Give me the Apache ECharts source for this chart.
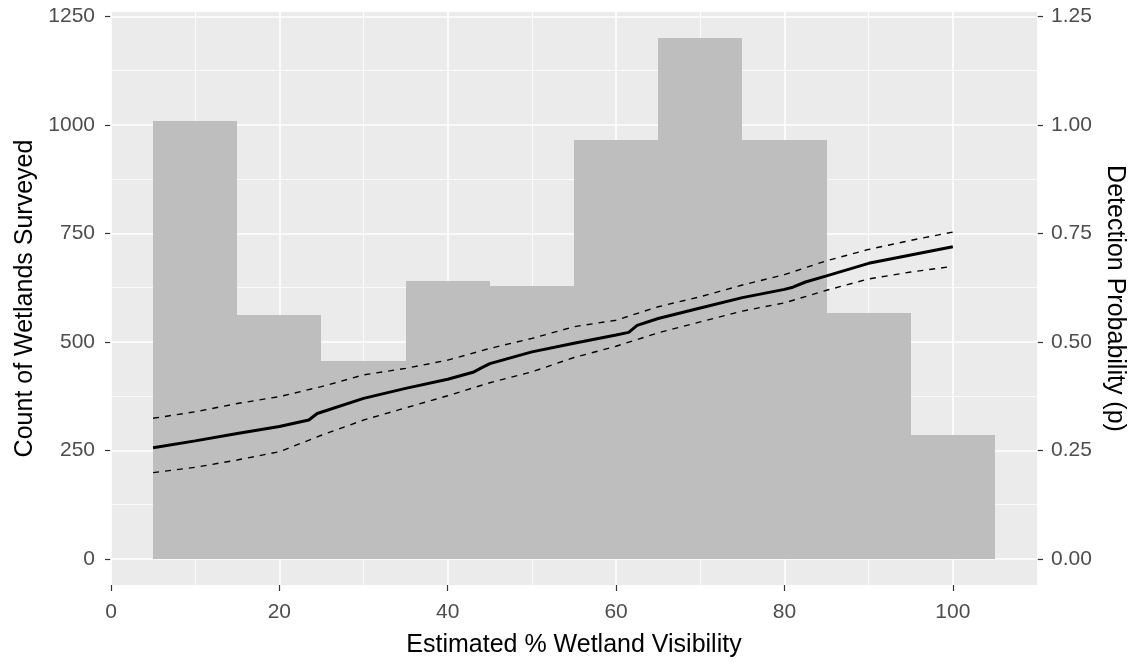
<!DOCTYPE html>
<html>
<head>
<meta charset="utf-8">
<script src="https://cdn.jsdelivr.net/npm/echarts@6/dist/echarts.min.js"></script>
<style>
  html, body { margin: 0; padding: 0; background: #ffffff; }
  #chart { width: 1136px; height: 662px; }
</style>
</head>
<body>
<div id="chart"></div>
<script>
// Histogram of surveyed wetlands by estimated visibility (bins of width 10)
const binCenters = [10, 20, 30, 40, 50, 60, 70, 80, 90, 100];
const binCounts = [1010, 563, 456, 641, 628, 965, 1200, 965, 567, 285];
const binWidth = 10;

// Fitted detection probability
const fitX = [5, 10, 15, 20, 23.5, 24.5, 30, 35, 40, 43, 44, 45, 50, 55, 60, 61.5, 62.5, 65, 70, 75, 80, 81, 82.5, 85, 90, 95, 100];
const fitP = [0.256, 0.272, 0.289, 0.305, 0.320, 0.335, 0.370, 0.393, 0.414, 0.430, 0.440, 0.450, 0.477, 0.497, 0.516, 0.522, 0.538, 0.554, 0.578, 0.602, 0.621, 0.626, 0.638, 0.652, 0.681, 0.700, 0.719];

// Confidence band
const bandX = [5, 10, 15, 20, 25, 30, 35, 40, 45, 50, 55, 60, 65, 70, 75, 80, 85, 90, 95, 100];
const upperP = [0.324, 0.339, 0.358, 0.374, 0.397, 0.424, 0.439, 0.458, 0.485, 0.508, 0.535, 0.550, 0.581, 0.604, 0.631, 0.655, 0.687, 0.713, 0.734, 0.753];
const lowerP = [0.199, 0.211, 0.228, 0.247, 0.285, 0.320, 0.348, 0.376, 0.406, 0.431, 0.464, 0.490, 0.521, 0.546, 0.571, 0.590, 0.619, 0.645, 0.661, 0.674];

// Axis breaks
const xTicks = [0, 20, 40, 60, 80, 100];
const xMinor = [10, 30, 50, 70, 90, 110];
const countTicks = [0, 250, 500, 750, 1000, 1250];
const countMinor = [125, 375, 625, 875, 1125];
const probTicks = [0, 0.25, 0.5, 0.75, 1.0, 1.25];

const xRange = [0, 110];
const countRange = [-60, 1260];
const probRange = [-0.06, 1.26];

const zip = (a, b) => a.map((v, i) => [v, b[i]]);

const chart = echarts.init(document.getElementById('chart'), null, { renderer: 'canvas' });

const tickLabelStyle = { color: '#4D4D4D', fontSize: 21, fontFamily: 'Liberation Sans, Arial, sans-serif' };
const titleStyle = { color: '#000000', fontSize: 25, fontFamily: 'Liberation Sans, Arial, sans-serif' };
const tickLine = { show: true, length: 6, lineStyle: { color: '#333333', width: 1.2 } };
const hiddenLine = { show: false, onZero: false };

const gridLines = [].concat(
  xTicks.map(v => ({ xAxis: v, lineStyle: { width: 1.6 } })),
  xMinor.map(v => ({ xAxis: v, lineStyle: { width: 0.8 } })),
  countTicks.map(v => ({ yAxis: v, lineStyle: { width: 1.6 } })),
  countMinor.map(v => ({ yAxis: v, lineStyle: { width: 0.8 } }))
);

chart.setOption({
  animation: false,
  backgroundColor: '#ffffff',
  grid: {
    left: 111, right: 99, top: 12, bottom: 77,
    outerBoundsMode: 'none', containLabel: false,
    show: true, backgroundColor: '#EBEBEB', borderWidth: 0
  },
  xAxis: {
    type: 'value', min: xRange[0], max: xRange[1],
    name: 'Estimated % Wetland Visibility', nameLocation: 'middle', nameGap: 48,
    nameTextStyle: titleStyle,
    axisLine: hiddenLine,
    axisTick: Object.assign({ customValues: xTicks }, tickLine),
    axisLabel: Object.assign({ customValues: xTicks, margin: 17, formatter: v => String(v) }, tickLabelStyle),
    splitLine: { show: false }
  },
  yAxis: [
    {
      type: 'value', min: countRange[0], max: countRange[1],
      name: 'Count of Wetlands Surveyed', nameLocation: 'middle', nameGap: 66, nameRotate: 90,
      nameTextStyle: titleStyle,
      axisLine: hiddenLine,
      axisTick: Object.assign({ customValues: countTicks }, tickLine),
      axisLabel: Object.assign({ customValues: countTicks, margin: 16, formatter: v => String(v) }, tickLabelStyle),
      splitLine: { show: false }
    },
    {
      type: 'value', position: 'right', min: probRange[0], max: probRange[1],
      name: 'Detection Probability (p)', nameLocation: 'middle', nameGap: 58, nameRotate: -90,
      nameTextStyle: titleStyle,
      axisLine: hiddenLine,
      axisTick: Object.assign({ customValues: probTicks }, tickLine),
      axisLabel: Object.assign({ customValues: probTicks, margin: 14, formatter: v => v.toFixed(2) }, tickLabelStyle),
      splitLine: { show: false }
    }
  ],
  series: [
    {
      // panel grid lines
      type: 'line', data: [], z: 1, silent: true,
      markLine: {
        silent: true, symbol: ['none', 'none'], label: { show: false },
        lineStyle: { color: '#ffffff', type: 'solid' },
        data: gridLines
      }
    },
    {
      type: 'custom', z: 20, silent: true,
      data: zip(binCenters, binCounts),
      renderItem: function (params, api) {
        const x = api.value(0), c = api.value(1);
        const p0 = api.coord([x - binWidth / 2, c]);
        const p1 = api.coord([x + binWidth / 2, 0]);
        // snap edges to whole pixels so neighbouring bins meet without seams
        const x0 = Math.round(p0[0]), x1 = Math.round(p1[0]);
        const y0 = Math.round(p0[1]), y1 = Math.round(p1[1]);
        return {
          type: 'rect',
          shape: { x: x0, y: y0, width: x1 - x0, height: y1 - y0 },
          style: { fill: '#BEBEBE' }
        };
      }
    },
    {
      type: 'line', yAxisIndex: 1, z: 21, silent: true, showSymbol: false,
      data: zip(bandX, upperP),
      lineStyle: { color: '#000000', width: 1.4, type: [6, 6] }
    },
    {
      type: 'line', yAxisIndex: 1, z: 21, silent: true, showSymbol: false,
      data: zip(bandX, lowerP),
      lineStyle: { color: '#000000', width: 1.4, type: [6, 6] }
    },
    {
      type: 'line', yAxisIndex: 1, z: 22, silent: true, showSymbol: false,
      data: zip(fitX, fitP),
      lineStyle: { color: '#000000', width: 3 }
    }
  ]
});
</script>
</body>
</html>
